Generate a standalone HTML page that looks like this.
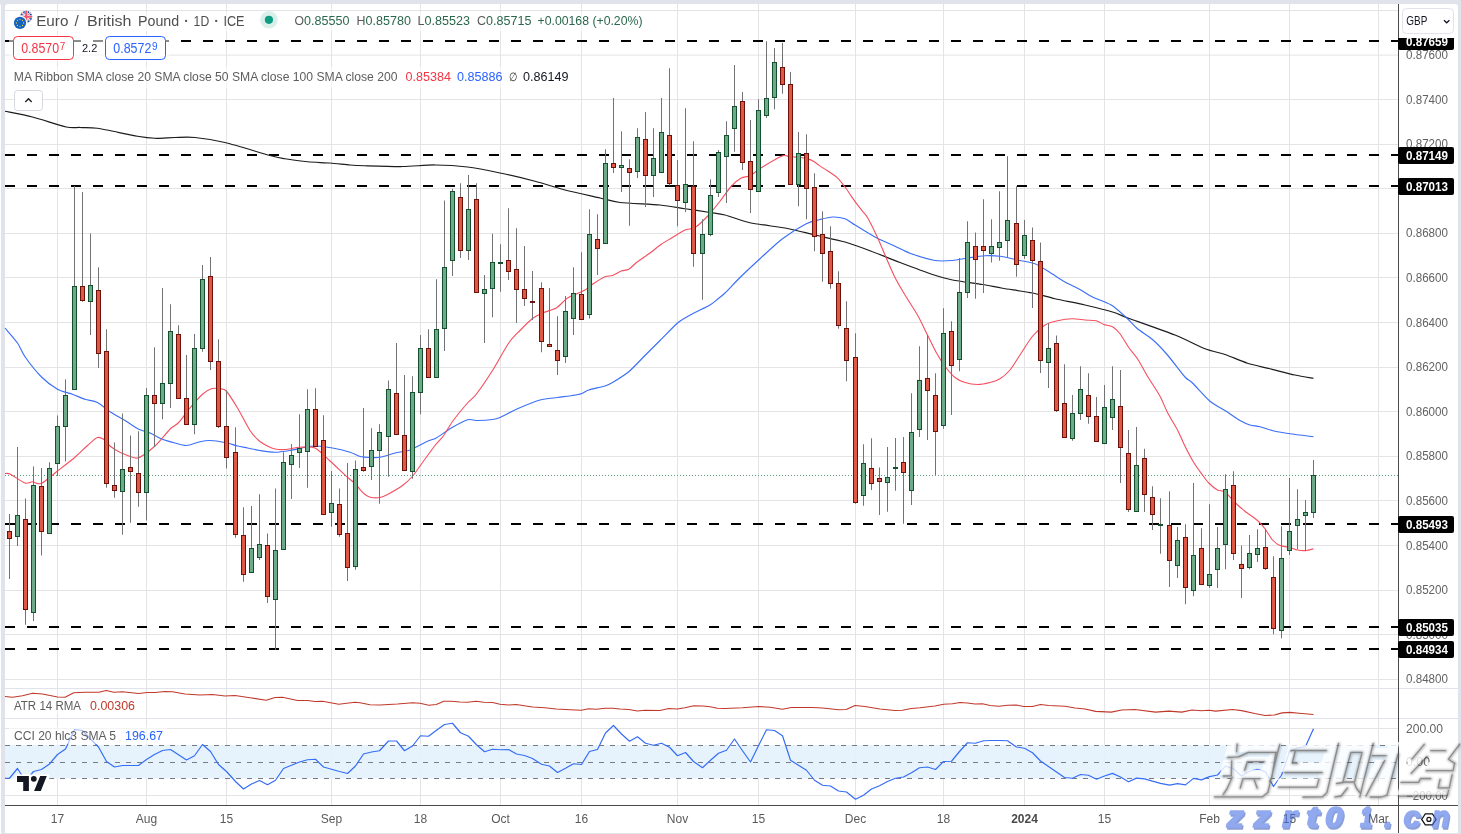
<!DOCTYPE html><html><head><meta charset="utf-8"><title>EURGBP</title>
<style>html,body{margin:0;padding:0;}html{background:#e0e3eb;}body{background:#ffffff;width:1461px;height:834px;overflow:hidden;position:relative;font-family:"Liberation Sans",sans-serif;}svg{position:absolute;left:0;top:0;display:block;will-change:transform;opacity:0.9999}text{font-family:"Liberation Sans",sans-serif;}</style></head><body>
<svg width="1461" height="834" viewBox="0 0 1461 834">
<rect x="0" y="0" width="1461" height="834" fill="#e0e3eb"/>
<rect x="5" y="4" width="1453" height="829" rx="3" ry="3" fill="#ffffff"/>
<rect x="5" y="700" width="1453" height="132.8" fill="#ffffff"/>
<rect x="0" y="4.5" width="0.95" height="830" fill="#ffffff"/>
<path d="M57.5 4V805 M146.5 4V805 M226.5 4V805 M331.5 4V805 M420.5 4V805 M500.5 4V805 M581.5 4V805 M677.5 4V805 M758.5 4V805 M855.5 4V805 M943.5 4V805 M1024.5 4V805 M1104.5 4V805 M1209.5 4V805 M1289.5 4V805 M1378.5 4V805 M5 10.5H1398 M5 99.5H1398 M5 144.5H1398 M5 188.5H1398 M5 233.5H1398 M5 277.5H1398 M5 322.5H1398 M5 367.5H1398 M5 411.5H1398 M5 456.5H1398 M5 500.5H1398 M5 545.5H1398 M5 590.5H1398 M5 634.5H1398 M5 679.5H1398 M5 728.5H1398 M5 795.5H1398" stroke="#e4e4e6" stroke-width="1" fill="none" shape-rendering="crispEdges"/>
<path d="M5 55.1H1398" stroke="#e4e4e6" stroke-width="1" fill="none"/>
<path d="M5 688.5H1458M5 718.5H1458" stroke="#e0e3eb" stroke-width="1" fill="none" shape-rendering="crispEdges"/>
<rect x="5" y="745" width="1393" height="33.5" fill="#e3f2fd" opacity="0.9"/>
<path d="M5 745.5H1398M5 762.5H1398M5 778.5H1398" stroke="#787b86" stroke-width="1" stroke-dasharray="5 6" fill="none" shape-rendering="crispEdges"/>
<path d="M5 41H1398" stroke="#000" stroke-width="2" stroke-dasharray="10 12" fill="none" shape-rendering="crispEdges"/>
<path d="M5 155H1398" stroke="#000" stroke-width="2" stroke-dasharray="10 12" fill="none" shape-rendering="crispEdges"/>
<path d="M5 186H1398" stroke="#000" stroke-width="2" stroke-dasharray="10 12" fill="none" shape-rendering="crispEdges"/>
<path d="M5 524H1398" stroke="#000" stroke-width="2" stroke-dasharray="10 12" fill="none" shape-rendering="crispEdges"/>
<path d="M5 627H1398" stroke="#000" stroke-width="2" stroke-dasharray="10 12" fill="none" shape-rendering="crispEdges"/>
<path d="M5 649H1398" stroke="#000" stroke-width="2" stroke-dasharray="10 12" fill="none" shape-rendering="crispEdges"/>
<path d="M5 475.5H1398" stroke="#5ba27b" stroke-width="1" stroke-dasharray="1 2" fill="none" shape-rendering="crispEdges"/>
<path d="M5.00 111.25 C8.67 112.02 24.33 114.90 32.50 117.00 C40.67 119.10 59.92 125.60 66.25 127.00 C72.58 128.40 75.83 127.33 80.00 127.50 C84.17 127.67 89.83 127.08 97.50 128.25 C105.17 129.42 129.83 134.92 137.50 136.25 C145.17 137.58 150.00 138.08 155.00 138.25 C160.00 138.42 169.67 137.60 175.00 137.50 C180.33 137.40 188.33 136.83 195.00 137.50 C201.67 138.17 215.00 140.10 225.00 142.50 C235.00 144.90 262.00 153.33 270.00 155.50 C278.00 157.67 280.00 157.92 285.00 158.75 C290.00 159.58 301.50 161.18 307.50 161.75 C313.50 162.32 324.33 162.57 330.00 163.00 C335.67 163.43 345.33 164.63 350.00 165.00 C354.67 165.37 358.00 165.55 365.00 165.75 C372.00 165.95 393.17 166.60 402.50 166.50 C411.83 166.40 426.33 164.93 435.00 165.00 C443.67 165.07 458.83 165.93 467.50 167.00 C476.17 168.07 491.00 171.10 500.00 173.00 C509.00 174.90 526.33 178.98 535.00 181.25 C543.67 183.52 556.33 187.77 565.00 190.00 C573.67 192.23 592.67 196.33 600.00 198.00 C607.33 199.67 612.00 201.57 620.00 202.50 C628.00 203.43 651.33 204.17 660.00 205.00 C668.67 205.83 678.33 207.75 685.00 208.75 C691.67 209.75 704.67 211.67 710.00 212.50 C715.33 213.33 719.67 213.63 725.00 215.00 C730.33 216.37 741.67 220.95 750.00 222.75 C758.33 224.55 778.83 226.87 787.50 228.50 C796.17 230.13 807.33 233.20 815.00 235.00 C822.67 236.80 837.67 239.90 845.00 242.00 C852.33 244.10 862.67 248.02 870.00 250.75 C877.33 253.48 891.67 259.33 900.00 262.50 C908.33 265.67 925.50 272.17 932.50 274.50 C939.50 276.83 945.83 278.67 952.50 280.00 C959.17 281.33 975.83 283.40 982.50 284.50 C989.17 285.60 995.83 287.12 1002.50 288.25 C1009.17 289.38 1025.50 291.60 1032.50 293.00 C1039.50 294.40 1048.00 297.15 1055.00 298.75 C1062.00 300.35 1077.33 303.23 1085.00 305.00 C1092.67 306.77 1106.50 310.17 1112.50 312.00 C1118.50 313.83 1121.67 315.68 1130.00 318.75 C1138.33 321.82 1165.00 331.00 1175.00 335.00 C1185.00 339.00 1198.33 346.15 1205.00 348.75 C1211.67 351.35 1219.33 352.57 1225.00 354.50 C1230.67 356.43 1241.50 361.35 1247.50 363.25 C1253.50 365.15 1263.67 367.18 1270.00 368.75 C1276.33 370.32 1289.20 373.73 1295.00 375.00 C1300.80 376.27 1311.03 377.82 1313.50 378.25" stroke="#1c1c1c" stroke-width="1.25" fill="none" stroke-linejoin="round" />
<path d="M5.00 328.00 C6.67 330.00 14.83 339.17 17.50 343.00 C20.17 346.83 21.83 352.25 25.00 356.75 C28.17 361.25 36.92 372.42 41.25 376.75 C45.58 381.08 53.33 386.92 57.50 389.25 C61.67 391.58 68.83 392.92 72.50 394.25 C76.17 395.58 81.67 398.15 85.00 399.25 C88.33 400.35 94.17 400.83 97.50 402.50 C100.83 404.17 106.33 409.35 110.00 411.75 C113.67 414.15 121.17 418.17 125.00 420.50 C128.83 422.83 135.42 427.58 138.75 429.25 C142.08 430.92 146.83 431.67 150.00 433.00 C153.17 434.33 159.17 437.92 162.50 439.25 C165.83 440.58 171.83 442.17 175.00 443.00 C178.17 443.83 182.92 445.67 186.25 445.50 C189.58 445.33 196.83 442.42 200.00 441.75 C203.17 441.08 206.67 440.40 210.00 440.50 C213.33 440.60 221.33 441.77 225.00 442.50 C228.67 443.23 234.50 445.27 237.50 446.00 C240.50 446.73 244.50 447.40 247.50 448.00 C250.50 448.60 256.33 449.93 260.00 450.50 C263.67 451.07 271.00 452.25 275.00 452.25 C279.00 452.25 286.00 451.17 290.00 450.50 C294.00 449.83 301.67 447.85 305.00 447.25 C308.33 446.65 311.33 445.90 315.00 446.00 C318.67 446.10 327.83 447.17 332.50 448.00 C337.17 448.83 346.33 451.12 350.00 452.25 C353.67 453.38 357.33 455.80 360.00 456.50 C362.67 457.20 367.33 457.40 370.00 457.50 C372.67 457.60 376.67 457.85 380.00 457.25 C383.33 456.65 391.00 453.97 395.00 453.00 C399.00 452.03 405.67 451.57 410.00 450.00 C414.33 448.43 424.00 442.85 427.50 441.25 C431.00 439.65 433.08 439.77 436.25 438.00 C439.42 436.23 447.08 430.43 451.25 428.00 C455.42 425.57 464.00 420.75 467.50 419.75 C471.00 418.75 474.17 420.53 477.50 420.50 C480.83 420.47 489.50 419.90 492.50 419.50 C495.50 419.10 496.67 418.93 500.00 417.50 C503.33 416.07 512.17 411.08 517.50 408.75 C522.83 406.42 534.67 401.50 540.00 400.00 C545.33 398.50 553.17 398.10 557.50 397.50 C561.83 396.90 569.33 396.00 572.50 395.50 C575.67 395.00 579.08 394.48 581.25 393.75 C583.42 393.02 585.58 391.03 588.75 390.00 C591.92 388.97 601.83 387.00 605.00 386.00 C608.17 385.00 609.33 384.40 612.50 382.50 C615.67 380.60 624.42 375.35 628.75 371.75 C633.08 368.15 640.83 359.67 645.00 355.50 C649.17 351.33 655.67 344.83 660.00 340.50 C664.33 336.17 674.17 326.00 677.50 323.00 C680.83 320.00 682.67 319.40 685.00 318.00 C687.33 316.60 691.67 314.23 695.00 312.50 C698.33 310.77 707.00 306.77 710.00 305.00 C713.00 303.23 715.50 300.85 717.50 299.25 C719.50 297.65 722.00 295.90 725.00 293.00 C728.00 290.10 735.33 282.07 740.00 277.50 C744.67 272.93 754.33 263.92 760.00 258.75 C765.67 253.58 776.33 243.42 782.50 238.75 C788.67 234.08 801.25 226.32 806.25 223.75 C811.25 221.18 816.50 220.40 820.00 219.50 C823.50 218.60 829.17 217.10 832.50 217.00 C835.83 216.90 842.00 217.68 845.00 218.75 C848.00 219.82 851.00 222.57 855.00 225.00 C859.00 227.43 869.67 234.17 875.00 237.00 C880.33 239.83 890.33 244.08 895.00 246.25 C899.67 248.42 904.67 251.35 910.00 253.25 C915.33 255.15 929.33 259.53 935.00 260.50 C940.67 261.47 948.17 260.83 952.50 260.50 C956.83 260.17 963.17 258.63 967.50 258.00 C971.83 257.37 980.67 255.98 985.00 255.75 C989.33 255.52 995.67 255.68 1000.00 256.25 C1004.33 256.82 1012.83 259.00 1017.50 260.00 C1022.17 261.00 1030.67 262.08 1035.00 263.75 C1039.33 265.42 1046.00 270.07 1050.00 272.50 C1054.00 274.93 1061.00 279.73 1065.00 282.00 C1069.00 284.27 1076.33 287.50 1080.00 289.50 C1083.67 291.50 1088.33 294.93 1092.50 297.00 C1096.67 299.07 1106.75 302.27 1111.25 305.00 C1115.75 307.73 1122.75 314.33 1126.25 317.50 C1129.75 320.67 1134.00 325.82 1137.50 328.75 C1141.00 331.68 1148.50 336.00 1152.50 339.50 C1156.50 343.00 1163.17 350.00 1167.50 355.00 C1171.83 360.00 1181.67 373.27 1185.00 377.00 C1188.33 380.73 1189.17 379.77 1192.50 383.00 C1195.83 386.23 1205.67 397.58 1210.00 401.25 C1214.33 404.92 1221.00 407.93 1225.00 410.50 C1229.00 413.07 1236.67 418.57 1240.00 420.50 C1243.33 422.43 1247.33 424.17 1250.00 425.00 C1252.67 425.83 1256.67 425.92 1260.00 426.75 C1263.33 427.58 1271.00 430.32 1275.00 431.25 C1279.00 432.18 1284.87 433.02 1290.00 433.75 C1295.13 434.48 1310.37 436.35 1313.50 436.75" stroke="#3a6ff7" stroke-width="1.15" fill="none" stroke-linejoin="round" />
<path d="M5.00 473.50 C5.67 473.57 7.33 472.73 10.00 474.00 C12.67 475.27 22.00 481.97 25.00 483.00 C28.00 484.03 30.33 481.68 32.50 481.75 C34.67 481.82 37.92 484.93 41.25 483.50 C44.58 482.07 53.00 474.50 57.50 471.00 C62.00 467.50 71.00 460.65 75.00 457.25 C79.00 453.85 84.50 448.13 87.50 445.50 C90.50 442.87 95.17 438.23 97.50 437.50 C99.83 436.77 103.33 438.87 105.00 440.00 C106.67 441.13 108.00 444.37 110.00 446.00 C112.00 447.63 116.33 450.65 120.00 452.25 C123.67 453.85 132.83 458.83 137.50 458.00 C142.17 457.17 150.67 449.83 155.00 446.00 C159.33 442.17 166.83 432.38 170.00 429.25 C173.17 426.12 176.08 425.33 178.75 422.50 C181.42 419.67 186.83 411.77 190.00 408.00 C193.17 404.23 199.67 396.82 202.50 394.25 C205.33 391.68 208.92 389.48 211.25 388.75 C213.58 388.02 218.00 388.45 220.00 388.75 C222.00 389.05 223.92 388.43 226.25 391.00 C228.58 393.57 234.33 402.73 237.50 408.00 C240.67 413.27 247.17 426.17 250.00 430.50 C252.83 434.83 256.42 438.43 258.75 440.50 C261.08 442.57 265.33 444.87 267.50 446.00 C269.67 447.13 272.67 448.53 275.00 449.00 C277.33 449.47 281.67 449.73 285.00 449.50 C288.33 449.27 296.00 447.45 300.00 447.25 C304.00 447.05 311.00 446.17 315.00 448.00 C319.00 449.83 325.67 457.10 330.00 461.00 C334.33 464.90 344.17 474.25 347.50 477.25 C350.83 480.25 353.33 481.87 355.00 483.50 C356.67 485.13 358.67 488.03 360.00 489.50 C361.33 490.97 363.50 493.43 365.00 494.50 C366.50 495.57 369.25 497.10 371.25 497.50 C373.25 497.90 377.83 497.90 380.00 497.50 C382.17 497.10 384.50 496.10 387.50 494.50 C390.50 492.90 399.17 487.93 402.50 485.50 C405.83 483.07 409.83 479.32 412.50 476.25 C415.17 473.18 419.50 466.60 422.50 462.50 C425.50 458.40 432.17 449.10 435.00 445.50 C437.83 441.90 441.42 438.70 443.75 435.50 C446.08 432.30 449.33 425.83 452.50 421.50 C455.67 417.17 464.33 406.63 467.50 403.00 C470.67 399.37 472.92 398.58 476.25 394.25 C479.58 389.92 488.17 377.33 492.50 370.50 C496.83 363.67 505.08 348.33 508.75 343.00 C512.42 337.67 516.83 333.77 520.00 330.50 C523.17 327.23 529.33 320.90 532.50 318.50 C535.67 316.10 540.58 313.90 543.75 312.50 C546.92 311.10 553.08 309.93 556.25 308.00 C559.42 306.07 564.67 299.93 567.50 298.00 C570.33 296.07 575.17 294.57 577.50 293.50 C579.83 292.43 583.00 291.23 585.00 290.00 C587.00 288.77 589.83 286.02 592.50 284.25 C595.17 282.48 602.33 277.92 605.00 276.75 C607.67 275.58 610.33 276.27 612.50 275.50 C614.67 274.73 619.08 271.83 621.25 271.00 C623.42 270.17 626.58 270.48 628.75 269.25 C630.92 268.02 634.67 263.92 637.50 261.75 C640.33 259.58 646.83 255.33 650.00 253.00 C653.17 250.67 658.38 246.25 661.25 244.25 C664.12 242.25 668.33 239.90 671.50 238.00 C674.67 236.10 681.87 231.40 685.00 230.00 C688.13 228.60 692.00 229.33 695.00 227.50 C698.00 225.67 704.17 219.75 707.50 216.25 C710.83 212.75 716.83 205.25 720.00 201.25 C723.17 197.25 728.42 189.35 731.25 186.25 C734.08 183.15 738.75 179.40 741.25 178.00 C743.75 176.60 747.17 177.22 750.00 175.75 C752.83 174.28 758.14 169.66 762.50 167.00 C766.86 164.34 779.30 157.21 782.70 155.80 C786.10 154.39 786.23 156.23 788.00 156.40 C789.77 156.57 794.11 156.91 796.00 157.10 C797.89 157.29 800.53 157.53 802.20 157.80 C803.87 158.07 806.95 158.62 808.50 159.10 C810.05 159.58 812.39 160.56 813.80 161.40 C815.21 162.24 817.67 164.40 819.10 165.40 C820.53 166.40 823.07 167.99 824.50 168.90 C825.93 169.81 828.37 171.25 829.80 172.20 C831.23 173.15 834.01 175.08 835.20 176.00 C836.39 176.92 837.75 178.09 838.70 179.10 C839.65 180.11 841.35 182.41 842.30 183.60 C843.25 184.79 844.73 186.52 845.80 188.00 C846.87 189.48 848.99 192.79 850.30 194.70 C851.61 196.61 854.12 200.29 855.60 202.30 C857.08 204.31 859.81 207.77 861.40 209.80 C862.99 211.83 865.35 213.81 867.50 217.50 C869.65 221.19 875.17 232.50 877.50 237.50 C879.83 242.50 882.67 249.67 885.00 255.00 C887.33 260.33 892.33 272.17 895.00 277.50 C897.67 282.83 902.00 290.00 905.00 295.00 C908.00 300.00 914.50 309.67 917.50 315.00 C920.50 320.33 925.00 330.00 927.50 335.00 C930.00 340.00 933.92 348.33 936.25 352.50 C938.58 356.67 942.50 362.92 945.00 366.25 C947.50 369.58 952.33 375.33 955.00 377.50 C957.67 379.67 962.00 381.57 965.00 382.50 C968.00 383.43 974.17 384.50 977.50 384.50 C980.83 384.50 987.00 383.27 990.00 382.50 C993.00 381.73 997.33 380.42 1000.00 378.75 C1002.67 377.08 1007.33 373.17 1010.00 370.00 C1012.67 366.83 1017.00 359.50 1020.00 355.00 C1023.00 350.50 1029.17 340.25 1032.50 336.25 C1035.83 332.25 1041.67 327.07 1045.00 325.00 C1048.33 322.93 1053.83 321.58 1057.50 320.75 C1061.17 319.92 1068.83 318.85 1072.50 318.75 C1076.17 318.65 1081.83 319.73 1085.00 320.00 C1088.17 320.27 1093.75 320.15 1096.25 320.75 C1098.75 321.35 1101.58 323.70 1103.75 324.50 C1105.92 325.30 1110.33 325.52 1112.50 326.75 C1114.67 327.98 1117.83 330.98 1120.00 333.75 C1122.17 336.52 1126.42 344.17 1128.75 347.50 C1131.08 350.83 1135.00 354.92 1137.50 358.75 C1140.00 362.58 1144.50 371.25 1147.50 376.25 C1150.50 381.25 1157.33 391.42 1160.00 396.25 C1162.67 401.08 1165.17 408.00 1167.50 412.50 C1169.83 417.00 1175.17 425.50 1177.50 430.00 C1179.83 434.50 1182.83 441.92 1185.00 446.25 C1187.17 450.58 1191.42 458.67 1193.75 462.50 C1196.08 466.33 1200.50 472.27 1202.50 475.00 C1204.50 477.73 1206.75 481.00 1208.75 483.00 C1210.75 485.00 1215.33 488.80 1217.50 490.00 C1219.67 491.20 1222.67 490.33 1225.00 492.00 C1227.33 493.67 1232.33 499.93 1235.00 502.50 C1237.67 505.07 1242.00 508.85 1245.00 511.25 C1248.00 513.65 1254.83 518.17 1257.50 520.50 C1260.17 522.83 1263.00 526.15 1265.00 528.75 C1267.00 531.35 1270.50 537.77 1272.50 540.00 C1274.50 542.23 1277.67 544.50 1280.00 545.50 C1282.33 546.50 1287.67 546.90 1290.00 547.50 C1292.33 548.10 1295.33 549.60 1297.50 550.00 C1299.67 550.40 1304.12 550.67 1306.25 550.50 C1308.38 550.33 1312.53 548.98 1313.50 548.75" stroke="#f4505f" stroke-width="1.12" fill="none" stroke-linejoin="round" />
<path d="M9.5 514.00V579.00 M17.5 447.00V546.00 M25.5 498.50V624.75 M33.5 466.50V621.00 M41.5 468.00V555.50 M49.5 462.25V533.50 M57.5 415.50V476.00 M65.5 379.25V461.50 M74.5 186.00V389.75 M82.5 192.00V301.75 M90.5 233.50V335.00 M98.5 267.25V368.00 M106.5 329.25V487.75 M114.5 442.50V497.75 M122.5 413.50V534.75 M130.5 435.50V522.75 M138.5 431.25V506.75 M146.5 388.00V520.50 M154.5 347.25V447.00 M162.5 288.00V419.25 M170.5 304.25V408.00 M178.5 325.25V398.75 M186.5 355.00V425.00 M194.5 334.00V434.25 M202.5 265.00V351.75 M210.5 257.00V370.00 M218.5 339.25V428.00 M226.5 390.50V468.50 M235.5 427.25V537.75 M243.5 507.25V581.75 M251.5 506.00V572.75 M259.5 494.25V560.00 M267.5 533.50V603.00 M275.5 488.50V649.75 M283.5 452.25V549.75 M291.5 444.00V499.00 M299.5 414.25V468.00 M307.5 389.25V487.75 M315.5 388.25V446.50 M323.5 415.25V514.25 M331.5 471.00V526.75 M339.5 488.50V536.75 M347.5 463.00V581.00 M355.5 460.50V569.75 M363.5 408.00V471.75 M371.5 428.25V480.00 M379.5 424.25V503.75 M388.5 380.50V476.75 M396.5 343.00V434.50 M404.5 375.00V470.50 M412.5 376.25V478.75 M420.5 335.00V414.25 M428.5 329.25V377.50 M436.5 279.25V377.50 M444.5 200.50V351.00 M452.5 188.75V276.00 M460.5 183.25V258.00 M468.5 175.00V260.00 M476.5 183.25V292.50 M484.5 275.00V343.00 M492.5 233.75V317.25 M500.5 244.25V291.75 M508.5 208.25V280.00 M516.5 228.25V323.00 M524.5 246.00V306.00 M532.5 271.00V320.00 M541.5 282.25V352.25 M549.5 288.00V346.75 M557.5 316.25V375.00 M565.5 296.00V363.00 M573.5 267.25V335.00 M581.5 252.25V319.50 M589.5 209.25V318.50 M597.5 214.25V275.00 M605.5 149.25V243.50 M613.5 98.00V173.00 M621.5 131.25V192.00 M629.5 159.25V225.75 M637.5 128.25V178.00 M645.5 112.00V207.00 M653.5 128.25V197.00 M661.5 98.00V172.75 M669.5 68.25V185.50 M677.5 160.00V226.25 M685.5 108.25V212.00 M693.5 141.25V266.75 M702.5 219.25V299.75 M710.5 179.25V236.25 M718.5 150.00V197.00 M726.5 121.25V203.00 M734.5 65.00V151.75 M742.5 92.00V170.00 M750.5 120.00V213.00 M758.5 99.25V191.50 M766.5 41.25V118.00 M774.5 48.00V109.25 M782.5 43.00V93.75 M790.5 72.00V184.50 M798.5 132.00V206.25 M806.5 134.25V219.25 M814.5 173.25V251.25 M822.5 211.25V281.75 M830.5 226.25V288.75 M838.5 271.25V328.75 M846.5 301.25V381.25 M855.5 333.25V503.75 M863.5 444.25V505.75 M871.5 438.25V490.00 M879.5 467.50V515.00 M887.5 447.00V511.75 M895.5 438.00V490.75 M903.5 437.00V523.75 M911.5 393.25V505.00 M919.5 346.25V437.00 M927.5 335.00V440.00 M935.5 373.25V475.00 M943.5 308.25V428.75 M951.5 321.25V415.00 M959.5 258.00V371.25 M967.5 221.25V298.00 M975.5 232.50V298.75 M983.5 199.25V293.00 M991.5 219.25V262.50 M999.5 191.25V260.75 M1007.5 156.25V257.00 M1016.5 186.25V276.75 M1024.5 220.00V258.75 M1032.5 227.50V308.00 M1040.5 242.50V373.00 M1048.5 323.25V388.00 M1056.5 335.50V412.00 M1064.5 364.25V437.50 M1072.5 395.00V440.75 M1080.5 366.25V420.00 M1088.5 373.25V423.75 M1096.5 397.00V441.50 M1104.5 385.00V443.50 M1112.5 366.25V430.00 M1120.5 370.00V483.00 M1128.5 430.00V512.00 M1136.5 427.00V511.50 M1144.5 448.75V512.00 M1152.5 486.25V530.00 M1160.5 498.25V553.75 M1169.5 491.25V587.00 M1177.5 527.00V578.00 M1185.5 524.25V604.25 M1193.5 483.00V596.25 M1201.5 528.25V584.50 M1209.5 504.25V588.00 M1217.5 527.00V588.00 M1225.5 474.25V569.25 M1233.5 471.25V560.00 M1241.5 545.50V598.00 M1249.5 535.00V569.25 M1257.5 529.25V562.00 M1265.5 528.75V570.00 M1273.5 556.25V634.25 M1281.5 526.25V638.25 M1289.5 478.00V555.00 M1297.5 489.25V549.25 M1305.5 500.00V551.25 M1313.5 460.00V518.00" stroke="#737375" stroke-width="1" fill="none"/>
<g fill="#6dab88" stroke="#14502d" stroke-width="1"><rect x="15.5" y="515.5" width="4" height="21.0"/><rect x="31.5" y="485.5" width="4" height="127.0"/><rect x="47.5" y="468.5" width="4" height="65.0"/><rect x="55.5" y="426.5" width="4" height="37.0"/><rect x="63.5" y="395.5" width="4" height="31.0"/><rect x="72.5" y="286.5" width="4" height="103.0"/><rect x="88.5" y="285.5" width="4" height="16.0"/><rect x="120.5" y="469.5" width="4" height="22.0"/><rect x="144.5" y="395.5" width="4" height="97.0"/><rect x="160.5" y="383.5" width="4" height="20.0"/><rect x="168.5" y="331.5" width="4" height="52.0"/><rect x="192.5" y="348.5" width="4" height="76.0"/><rect x="200.5" y="279.5" width="4" height="69.0"/><rect x="249.5" y="548.5" width="4" height="24.0"/><rect x="257.5" y="544.5" width="4" height="13.0"/><rect x="273.5" y="550.5" width="4" height="49.0"/><rect x="281.5" y="462.5" width="4" height="87.0"/><rect x="289.5" y="455.5" width="4" height="9.0"/><rect x="297.5" y="448.5" width="4" height="4.0"/><rect x="305.5" y="409.5" width="4" height="42.0"/><rect x="329.5" y="503.5" width="4" height="9.0"/><rect x="353.5" y="469.5" width="4" height="97.0"/><rect x="369.5" y="450.5" width="4" height="16.0"/><rect x="377.5" y="432.5" width="4" height="18.0"/><rect x="386.5" y="389.5" width="4" height="47.0"/><rect x="410.5" y="392.5" width="4" height="79.0"/><rect x="418.5" y="348.5" width="4" height="44.0"/><rect x="434.5" y="329.5" width="4" height="48.0"/><rect x="442.5" y="267.5" width="4" height="61.0"/><rect x="450.5" y="191.5" width="4" height="69.0"/><rect x="466.5" y="209.5" width="4" height="41.0"/><rect x="482.5" y="289.5" width="4" height="4.0"/><rect x="490.5" y="262.5" width="4" height="26.0"/><rect x="498.5" y="262.5" width="4" height="1.0"/><rect x="563.5" y="311.5" width="4" height="45.0"/><rect x="571.5" y="293.5" width="4" height="25.0"/><rect x="587.5" y="234.5" width="4" height="80.0"/><rect x="603.5" y="163.5" width="4" height="80.0"/><rect x="619.5" y="165.5" width="4" height="2.0"/><rect x="635.5" y="137.5" width="4" height="34.0"/><rect x="651.5" y="158.5" width="4" height="17.0"/><rect x="659.5" y="132.5" width="4" height="40.0"/><rect x="683.5" y="184.5" width="4" height="18.0"/><rect x="700.5" y="234.5" width="4" height="19.0"/><rect x="708.5" y="195.5" width="4" height="39.0"/><rect x="716.5" y="152.5" width="4" height="40.0"/><rect x="724.5" y="135.5" width="4" height="21.0"/><rect x="732.5" y="106.5" width="4" height="22.0"/><rect x="756.5" y="110.5" width="4" height="81.0"/><rect x="764.5" y="98.5" width="4" height="17.0"/><rect x="772.5" y="62.5" width="4" height="35.0"/><rect x="796.5" y="153.5" width="4" height="31.0"/><rect x="861.5" y="463.5" width="4" height="32.0"/><rect x="885.5" y="477.5" width="4" height="5.0"/><rect x="893.5" y="467.5" width="4" height="1.0"/><rect x="909.5" y="432.5" width="4" height="58.0"/><rect x="917.5" y="380.5" width="4" height="49.0"/><rect x="941.5" y="333.5" width="4" height="92.0"/><rect x="957.5" y="292.5" width="4" height="67.0"/><rect x="965.5" y="242.5" width="4" height="50.0"/><rect x="989.5" y="246.5" width="4" height="7.0"/><rect x="997.5" y="242.5" width="4" height="5.0"/><rect x="1005.5" y="220.5" width="4" height="20.0"/><rect x="1022.5" y="235.5" width="4" height="20.0"/><rect x="1046.5" y="348.5" width="4" height="14.0"/><rect x="1070.5" y="413.5" width="4" height="25.0"/><rect x="1078.5" y="389.5" width="4" height="24.0"/><rect x="1102.5" y="407.5" width="4" height="36.0"/><rect x="1110.5" y="399.5" width="4" height="18.0"/><rect x="1134.5" y="465.5" width="4" height="46.0"/><rect x="1158.5" y="524.5" width="4" height="1.0"/><rect x="1175.5" y="540.5" width="4" height="25.0"/><rect x="1191.5" y="555.5" width="4" height="35.0"/><rect x="1207.5" y="574.5" width="4" height="11.0"/><rect x="1215.5" y="548.5" width="4" height="21.0"/><rect x="1223.5" y="489.5" width="4" height="55.0"/><rect x="1247.5" y="553.5" width="4" height="14.0"/><rect x="1255.5" y="548.5" width="4" height="6.0"/><rect x="1279.5" y="558.5" width="4" height="72.0"/><rect x="1287.5" y="531.5" width="4" height="19.0"/><rect x="1295.5" y="519.5" width="4" height="6.0"/><rect x="1303.5" y="512.5" width="4" height="3.0"/><rect x="1311.5" y="475.5" width="4" height="37.0"/></g>
<g fill="#df5846" stroke="#6b1109" stroke-width="1"><rect x="7.5" y="531.5" width="4" height="7.0"/><rect x="23.5" y="519.5" width="4" height="90.0"/><rect x="39.5" y="486.5" width="4" height="45.0"/><rect x="80.5" y="286.5" width="4" height="14.0"/><rect x="96.5" y="290.5" width="4" height="63.0"/><rect x="104.5" y="351.5" width="4" height="132.0"/><rect x="112.5" y="485.5" width="4" height="5.0"/><rect x="128.5" y="467.5" width="4" height="4.0"/><rect x="136.5" y="473.5" width="4" height="19.0"/><rect x="152.5" y="395.5" width="4" height="8.0"/><rect x="176.5" y="334.5" width="4" height="64.0"/><rect x="184.5" y="398.5" width="4" height="26.0"/><rect x="208.5" y="276.5" width="4" height="85.0"/><rect x="216.5" y="361.5" width="4" height="65.0"/><rect x="224.5" y="426.5" width="4" height="31.0"/><rect x="233.5" y="452.5" width="4" height="82.0"/><rect x="241.5" y="535.5" width="4" height="39.0"/><rect x="265.5" y="545.5" width="4" height="51.0"/><rect x="313.5" y="409.5" width="4" height="37.0"/><rect x="321.5" y="440.5" width="4" height="74.0"/><rect x="337.5" y="504.5" width="4" height="30.0"/><rect x="345.5" y="533.5" width="4" height="34.0"/><rect x="361.5" y="467.5" width="4" height="3.0"/><rect x="394.5" y="393.5" width="4" height="41.0"/><rect x="402.5" y="435.5" width="4" height="35.0"/><rect x="426.5" y="348.5" width="4" height="29.0"/><rect x="458.5" y="197.5" width="4" height="53.0"/><rect x="474.5" y="199.5" width="4" height="93.0"/><rect x="506.5" y="260.5" width="4" height="11.0"/><rect x="514.5" y="269.5" width="4" height="20.0"/><rect x="522.5" y="289.5" width="4" height="9.0"/><rect x="530.5" y="301.5" width="4" height="1.0"/><rect x="539.5" y="288.5" width="4" height="53.0"/><rect x="547.5" y="344.5" width="4" height="2.0"/><rect x="555.5" y="350.5" width="4" height="10.0"/><rect x="579.5" y="294.5" width="4" height="25.0"/><rect x="595.5" y="239.5" width="4" height="9.0"/><rect x="611.5" y="163.5" width="4" height="4.0"/><rect x="627.5" y="168.5" width="4" height="4.0"/><rect x="643.5" y="139.5" width="4" height="36.0"/><rect x="667.5" y="135.5" width="4" height="48.0"/><rect x="675.5" y="185.5" width="4" height="15.0"/><rect x="691.5" y="186.5" width="4" height="67.0"/><rect x="740.5" y="101.5" width="4" height="61.0"/><rect x="748.5" y="161.5" width="4" height="28.0"/><rect x="780.5" y="67.5" width="4" height="17.0"/><rect x="788.5" y="84.5" width="4" height="100.0"/><rect x="804.5" y="153.5" width="4" height="35.0"/><rect x="812.5" y="187.5" width="4" height="49.0"/><rect x="820.5" y="234.5" width="4" height="19.0"/><rect x="828.5" y="251.5" width="4" height="32.0"/><rect x="836.5" y="283.5" width="4" height="42.0"/><rect x="844.5" y="328.5" width="4" height="32.0"/><rect x="853.5" y="357.5" width="4" height="145.0"/><rect x="869.5" y="468.5" width="4" height="15.0"/><rect x="877.5" y="478.5" width="4" height="3.0"/><rect x="901.5" y="462.5" width="4" height="10.0"/><rect x="925.5" y="378.5" width="4" height="12.0"/><rect x="933.5" y="395.5" width="4" height="36.0"/><rect x="949.5" y="331.5" width="4" height="34.0"/><rect x="973.5" y="246.5" width="4" height="13.0"/><rect x="981.5" y="246.5" width="4" height="4.0"/><rect x="1014.5" y="223.5" width="4" height="41.0"/><rect x="1030.5" y="240.5" width="4" height="20.0"/><rect x="1038.5" y="261.5" width="4" height="99.0"/><rect x="1054.5" y="343.5" width="4" height="67.0"/><rect x="1062.5" y="403.5" width="4" height="34.0"/><rect x="1086.5" y="395.5" width="4" height="21.0"/><rect x="1094.5" y="416.5" width="4" height="25.0"/><rect x="1118.5" y="406.5" width="4" height="41.0"/><rect x="1126.5" y="453.5" width="4" height="56.0"/><rect x="1142.5" y="458.5" width="4" height="36.0"/><rect x="1150.5" y="497.5" width="4" height="17.0"/><rect x="1167.5" y="525.5" width="4" height="35.0"/><rect x="1183.5" y="537.5" width="4" height="50.0"/><rect x="1199.5" y="548.5" width="4" height="36.0"/><rect x="1231.5" y="485.5" width="4" height="68.0"/><rect x="1239.5" y="564.5" width="4" height="4.0"/><rect x="1263.5" y="547.5" width="4" height="21.0"/><rect x="1271.5" y="577.5" width="4" height="51.0"/></g>
<path d="M5.00 696.50 L12.50 697.25 L22.50 695.75 L32.50 693.25 L42.50 694.00 L57.50 697.00 L65.00 697.25 L73.75 692.75 L85.00 692.25 L98.75 692.25 L106.25 690.50 L113.75 692.25 L122.50 691.75 L138.75 693.50 L147.50 692.50 L155.00 692.50 L165.00 691.50 L172.50 691.75 L185.00 694.00 L200.00 695.00 L212.50 694.50 L225.00 696.00 L235.00 695.50 L250.00 697.75 L266.25 700.25 L275.00 697.50 L282.50 697.25 L297.50 700.50 L307.50 700.50 L315.00 701.50 L322.50 701.25 L338.75 704.25 L355.00 702.25 L360.00 702.75 L370.00 704.75 L380.00 705.00 L397.50 704.00 L412.50 702.75 L420.00 703.25 L428.75 705.25 L436.25 704.50 L443.75 701.25 L451.25 701.25 L460.00 702.00 L467.50 702.25 L476.25 701.25 L483.75 702.25 L492.50 702.50 L500.00 704.25 L508.75 705.00 L516.25 704.50 L532.50 707.00 L545.00 707.75 L556.25 709.00 L570.00 709.75 L581.25 710.25 L588.75 708.75 L596.25 709.25 L605.00 708.25 L612.50 708.25 L620.00 709.00 L628.75 709.50 L637.50 711.00 L645.00 710.25 L660.00 710.50 L668.75 708.50 L677.50 709.00 L685.00 707.75 L693.75 705.75 L702.50 706.00 L710.00 706.75 L717.50 708.25 L725.00 708.50 L742.50 707.75 L758.75 706.50 L770.00 707.25 L782.50 709.25 L791.25 707.50 L812.50 707.50 L822.50 708.00 L838.75 709.75 L846.25 709.50 L855.00 705.50 L865.00 706.50 L880.00 709.00 L895.00 710.50 L902.50 710.25 L911.25 708.50 L920.00 707.75 L935.00 706.00 L943.75 704.25 L952.50 703.75 L960.00 702.50 L967.50 703.00 L975.00 704.00 L982.50 703.75 L990.00 705.50 L998.75 706.25 L1007.50 705.25 L1016.25 705.00 L1023.75 706.50 L1032.50 706.50 L1040.50 704.50 L1048.75 705.50 L1065.00 706.25 L1075.00 708.00 L1085.00 709.00 L1095.60 711.40 L1111.30 712.10 L1121.70 710.00 L1134.80 709.50 L1155.60 712.10 L1168.70 711.10 L1181.70 712.10 L1192.10 710.00 L1201.30 710.80 L1209.00 710.30 L1215.60 711.10 L1232.50 709.50 L1241.70 710.60 L1254.70 713.50 L1265.10 715.50 L1274.30 715.00 L1282.10 712.90 L1289.90 712.40 L1299.00 713.20 L1313.50 714.50" stroke="#c0392b" stroke-width="1.1" fill="none" stroke-linejoin="round" />
<path d="M5.00 778.25 L9.50 778.25 L17.50 768.50 L25.50 781.00 L33.50 771.50 L41.50 769.50 L49.50 764.00 L57.50 754.50 L65.50 749.00 L74.50 729.50 L82.50 730.50 L90.50 739.00 L98.50 747.00 L106.50 761.50 L114.50 767.00 L122.50 765.50 L130.50 765.50 L138.50 765.50 L146.50 759.50 L154.50 754.50 L162.50 750.50 L170.50 749.50 L178.50 754.75 L186.50 760.00 L194.50 755.75 L202.50 744.50 L210.50 751.50 L218.50 764.50 L226.50 771.50 L235.50 781.50 L243.50 789.00 L251.50 784.00 L259.50 780.50 L267.50 784.75 L275.50 780.25 L283.50 768.50 L291.50 765.25 L299.50 762.00 L307.50 759.75 L315.50 759.25 L323.50 767.00 L331.50 769.25 L339.50 771.50 L347.50 773.50 L355.50 766.00 L363.50 754.00 L371.50 752.00 L379.50 750.75 L388.50 741.00 L396.50 741.00 L404.50 750.75 L412.50 746.00 L420.50 735.75 L428.50 736.25 L436.50 730.25 L444.50 724.50 L452.50 723.25 L460.50 732.75 L468.50 736.25 L476.50 744.75 L484.50 751.75 L492.50 749.25 L500.50 749.75 L508.50 749.50 L516.50 754.00 L524.50 755.50 L532.50 758.50 L541.50 764.25 L549.50 766.00 L557.50 772.50 L565.50 768.25 L573.50 763.75 L581.50 764.50 L589.50 751.50 L597.50 749.50 L605.50 733.00 L613.50 725.50 L621.50 734.00 L629.50 741.25 L637.50 736.75 L645.50 743.25 L653.50 745.25 L661.50 743.25 L669.50 747.25 L677.50 755.75 L685.50 752.50 L693.50 761.50 L702.50 767.75 L710.50 760.25 L718.50 753.25 L726.50 750.25 L734.50 739.00 L742.50 750.75 L750.50 762.00 L758.50 745.75 L766.50 729.75 L774.50 730.50 L782.50 735.75 L790.50 760.25 L798.50 765.25 L806.50 770.25 L814.50 780.25 L822.50 785.25 L830.50 786.00 L838.50 791.00 L846.50 792.00 L855.50 799.25 L863.50 795.25 L871.50 789.00 L879.50 785.75 L887.50 781.50 L895.50 778.25 L903.50 777.00 L911.50 772.75 L919.50 767.75 L927.50 767.00 L935.50 769.50 L943.50 761.50 L951.50 761.25 L959.50 751.50 L967.50 742.75 L975.50 743.25 L983.50 740.75 L991.50 740.50 L999.50 740.50 L1007.50 740.75 L1016.50 747.00 L1024.50 748.25 L1032.50 752.75 L1040.50 761.00 L1048.50 766.50 L1056.50 772.00 L1064.50 777.50 L1072.50 778.25 L1080.50 774.50 L1088.50 775.25 L1096.50 779.20 L1104.50 776.00 L1112.50 773.40 L1120.50 777.00 L1128.50 781.80 L1136.50 778.10 L1144.50 778.90 L1152.50 781.20 L1160.50 783.30 L1169.50 785.20 L1177.50 783.60 L1185.50 784.90 L1193.50 778.40 L1201.50 779.90 L1209.50 776.60 L1217.50 775.00 L1225.50 766.10 L1233.50 768.70 L1241.50 776.00 L1249.50 771.30 L1257.50 769.25 L1265.50 771.90 L1273.50 786.50 L1281.50 775.25 L1289.50 751.80 L1297.50 747.90 L1305.50 746.60 L1313.50 728.80" stroke="#356df7" stroke-width="1.2" fill="none" stroke-linejoin="round" />
<path d="M1398.5 4V833M5 805.5H1458" stroke="#4a4a4a" stroke-width="1" fill="none" shape-rendering="crispEdges"/>
<text x="1406" y="58.9" font-size="12" fill="#626262" textLength="42" lengthAdjust="spacingAndGlyphs">0.87600</text>
<text x="1406" y="103.5" font-size="12" fill="#626262" textLength="42" lengthAdjust="spacingAndGlyphs">0.87400</text>
<text x="1406" y="148.10000000000002" font-size="12" fill="#626262" textLength="42" lengthAdjust="spacingAndGlyphs">0.87200</text>
<text x="1406" y="192.70000000000002" font-size="12" fill="#626262" textLength="42" lengthAdjust="spacingAndGlyphs">0.87000</text>
<text x="1406" y="237.3" font-size="12" fill="#626262" textLength="42" lengthAdjust="spacingAndGlyphs">0.86800</text>
<text x="1406" y="281.90000000000003" font-size="12" fill="#626262" textLength="42" lengthAdjust="spacingAndGlyphs">0.86600</text>
<text x="1406" y="326.5" font-size="12" fill="#626262" textLength="42" lengthAdjust="spacingAndGlyphs">0.86400</text>
<text x="1406" y="371.1" font-size="12" fill="#626262" textLength="42" lengthAdjust="spacingAndGlyphs">0.86200</text>
<text x="1406" y="415.7" font-size="12" fill="#626262" textLength="42" lengthAdjust="spacingAndGlyphs">0.86000</text>
<text x="1406" y="460.3" font-size="12" fill="#626262" textLength="42" lengthAdjust="spacingAndGlyphs">0.85800</text>
<text x="1406" y="504.90000000000003" font-size="12" fill="#626262" textLength="42" lengthAdjust="spacingAndGlyphs">0.85600</text>
<text x="1406" y="549.5" font-size="12" fill="#626262" textLength="42" lengthAdjust="spacingAndGlyphs">0.85400</text>
<text x="1406" y="594.1" font-size="12" fill="#626262" textLength="42" lengthAdjust="spacingAndGlyphs">0.85200</text>
<text x="1406" y="638.7" font-size="12" fill="#626262" textLength="42" lengthAdjust="spacingAndGlyphs">0.85000</text>
<text x="1406" y="683.3000000000001" font-size="12" fill="#626262" textLength="42" lengthAdjust="spacingAndGlyphs">0.84800</text>
<text x="1406" y="732.8" font-size="12" fill="#626262" textLength="37" lengthAdjust="spacingAndGlyphs">200.00</text>
<text x="1406" y="766.3" font-size="12" fill="#626262" textLength="24" lengthAdjust="spacingAndGlyphs">0.00</text>
<text x="1406" y="799.8" font-size="12" fill="#626262" textLength="42" lengthAdjust="spacingAndGlyphs">−200.00</text>
<clipPath id="cl41"><rect x="1390" y="38" width="71" height="40"/></clipPath><g clip-path="url(#cl41)">
<rect x="1398" y="33.0" width="56" height="17" rx="2" ry="2" fill="#000"/>
<text x="1406" y="45.8" font-size="12" font-weight="bold" fill="#fff" textLength="42" lengthAdjust="spacingAndGlyphs">0.87659</text>
</g>
<rect x="1398" y="147.0" width="56" height="17" rx="2" ry="2" fill="#000"/>
<text x="1406" y="159.8" font-size="12" font-weight="bold" fill="#fff" textLength="42" lengthAdjust="spacingAndGlyphs">0.87149</text>
<rect x="1398" y="178.0" width="56" height="17" rx="2" ry="2" fill="#000"/>
<text x="1406" y="190.8" font-size="12" font-weight="bold" fill="#fff" textLength="42" lengthAdjust="spacingAndGlyphs">0.87013</text>
<rect x="1398" y="516.0" width="56" height="17" rx="2" ry="2" fill="#000"/>
<text x="1406" y="528.8" font-size="12" font-weight="bold" fill="#fff" textLength="42" lengthAdjust="spacingAndGlyphs">0.85493</text>
<rect x="1398" y="619.0" width="56" height="17" rx="2" ry="2" fill="#000"/>
<text x="1406" y="631.8" font-size="12" font-weight="bold" fill="#fff" textLength="42" lengthAdjust="spacingAndGlyphs">0.85035</text>
<rect x="1398" y="641.0" width="56" height="17" rx="2" ry="2" fill="#000"/>
<text x="1406" y="653.8" font-size="12" font-weight="bold" fill="#fff" textLength="42" lengthAdjust="spacingAndGlyphs">0.84934</text>
<rect x="1402.5" y="8.5" width="51" height="25" rx="4" ry="4" fill="#fff" stroke="#e0e3eb" stroke-width="1"/>
<text x="1406.3" y="25.2" font-size="12.5" fill="#131722" textLength="21" lengthAdjust="spacingAndGlyphs">GBP</text>
<path d="M1444 20.2L1446.7 22.8L1449.4 20.2" stroke="#131722" stroke-width="1.3" fill="none"/>
<text x="57.5" y="823.3" font-size="12" fill="#5a5a5a" text-anchor="middle">17</text>
<text x="146.5" y="823.3" font-size="12" fill="#5a5a5a" text-anchor="middle">Aug</text>
<text x="226.5" y="823.3" font-size="12" fill="#5a5a5a" text-anchor="middle">15</text>
<text x="331.5" y="823.3" font-size="12" fill="#5a5a5a" text-anchor="middle">Sep</text>
<text x="420.5" y="823.3" font-size="12" fill="#5a5a5a" text-anchor="middle">18</text>
<text x="500.5" y="823.3" font-size="12" fill="#5a5a5a" text-anchor="middle">Oct</text>
<text x="581.5" y="823.3" font-size="12" fill="#5a5a5a" text-anchor="middle">16</text>
<text x="677.5" y="823.3" font-size="12" fill="#5a5a5a" text-anchor="middle">Nov</text>
<text x="758.5" y="823.3" font-size="12" fill="#5a5a5a" text-anchor="middle">15</text>
<text x="855.5" y="823.3" font-size="12" fill="#5a5a5a" text-anchor="middle">Dec</text>
<text x="943.5" y="823.3" font-size="12" fill="#5a5a5a" text-anchor="middle">18</text>
<text x="1104.5" y="823.3" font-size="12" fill="#5a5a5a" text-anchor="middle">15</text>
<text x="1209.5" y="823.3" font-size="12" fill="#5a5a5a" text-anchor="middle">Feb</text>
<text x="1289.5" y="823.3" font-size="12" fill="#5a5a5a" text-anchor="middle">15</text>
<text x="1378.5" y="823.3" font-size="12" fill="#5a5a5a" text-anchor="middle">Mar</text>
<text x="1024.5" y="823.3" font-size="12" font-weight="bold" fill="#4a4a4a" text-anchor="middle">2024</text>
<polygon points="1436.10,819.40 1432.50,824.89 1425.30,824.89 1421.70,819.40 1425.30,813.91 1432.50,813.91" fill="none" stroke="#111" stroke-width="1.2"/>
<circle cx="1428.9" cy="819.4" r="2" fill="none" stroke="#111" stroke-width="1.2"/>
<rect x="9" y="12" width="640" height="19" fill="rgba(255,255,255,0.55)"/>
<rect x="9" y="34" width="160" height="28" fill="rgba(255,255,255,0.55)"/>
<rect x="9" y="67" width="563" height="21" fill="rgba(255,255,255,0.55)"/>
<rect x="9" y="698" width="131" height="16" fill="rgba(255,255,255,0.55)"/>
<rect x="9" y="727" width="158" height="17" fill="rgba(255,255,255,0.55)"/>
<circle cx="26.2" cy="16.8" r="6" fill="#ffffff"/>
<clipPath id="uk"><circle cx="26.2" cy="16.8" r="6"/></clipPath>
<g clip-path="url(#uk)"><rect x="20" y="10" width="13" height="14" fill="#0d47a1"/><path d="M20 10.6L32.4 23M32.4 10.6L20 23" stroke="#fff" stroke-width="1.9"/><path d="M20 10.6L32.4 23M32.4 10.6L20 23" stroke="#ef5368" stroke-width="0.8"/><path d="M26.2 10V24M20 16.8H33" stroke="#fff" stroke-width="3.1"/><path d="M26.2 10V24M20 16.8H33" stroke="#f0566b" stroke-width="2.1"/></g>
<circle cx="20" cy="22.9" r="7.3" fill="#fff"/>
<circle cx="20" cy="22.9" r="6.1" fill="#1565c0"/>
<circle cx="23.60" cy="22.90" r="0.62" fill="#fdd835"/>
<circle cx="22.55" cy="25.45" r="0.62" fill="#fdd835"/>
<circle cx="20.00" cy="26.50" r="0.62" fill="#fdd835"/>
<circle cx="17.45" cy="25.45" r="0.62" fill="#fdd835"/>
<circle cx="16.40" cy="22.90" r="0.62" fill="#fdd835"/>
<circle cx="17.45" cy="20.35" r="0.62" fill="#fdd835"/>
<circle cx="20.00" cy="19.30" r="0.62" fill="#fdd835"/>
<circle cx="22.55" cy="20.35" r="0.62" fill="#fdd835"/>
<text x="36.2" y="26" font-size="15.2" fill="#4f4f4f" textLength="32.2" lengthAdjust="spacingAndGlyphs">Euro</text>
<text x="74.6" y="26" font-size="15.2" fill="#4f4f4f">/</text>
<text x="87" y="26" font-size="15.2" fill="#4f4f4f" textLength="44.5" lengthAdjust="spacingAndGlyphs">British</text>
<text x="138" y="26" font-size="15.2" fill="#4f4f4f" textLength="41.2" lengthAdjust="spacingAndGlyphs">Pound</text>
<text x="193.6" y="26" font-size="15.2" fill="#4f4f4f" textLength="15.6" lengthAdjust="spacingAndGlyphs">1D</text>
<text x="223.4" y="26" font-size="15.2" fill="#4f4f4f" textLength="21" lengthAdjust="spacingAndGlyphs">ICE</text>
<rect x="185.1" y="19.9" width="2" height="2" fill="#4f4f4f"/><rect x="215.2" y="19.9" width="2" height="2" fill="#4f4f4f"/>
<circle cx="268.9" cy="19.8" r="8.8" fill="#d9efea"/><circle cx="268.9" cy="19.8" r="4.1" fill="#0e9c82"/>
<text x="294.5" y="24.5" font-size="13" fill="#5a5a5a" textLength="9.5" lengthAdjust="spacingAndGlyphs" >O</text>
<text x="304" y="24.5" font-size="13" fill="#2a674b" textLength="45.5" lengthAdjust="spacingAndGlyphs" >0.85550</text>
<text x="356.5" y="24.5" font-size="13" fill="#5a5a5a" textLength="9" lengthAdjust="spacingAndGlyphs" >H</text>
<text x="365.5" y="24.5" font-size="13" fill="#2a674b" textLength="45.5" lengthAdjust="spacingAndGlyphs" >0.85780</text>
<text x="417.5" y="24.5" font-size="13" fill="#5a5a5a" textLength="7" lengthAdjust="spacingAndGlyphs" >L</text>
<text x="424.5" y="24.5" font-size="13" fill="#2a674b" textLength="45.5" lengthAdjust="spacingAndGlyphs" >0.85523</text>
<text x="477" y="24.5" font-size="13" fill="#5a5a5a" textLength="9" lengthAdjust="spacingAndGlyphs" >C</text>
<text x="486" y="24.5" font-size="13" fill="#2a674b" textLength="45.5" lengthAdjust="spacingAndGlyphs" >0.85715</text>
<text x="537.5" y="24.5" font-size="13" fill="#2a674b" textLength="105" lengthAdjust="spacingAndGlyphs" >+0.00168 (+0.20%)</text>
<rect x="13.5" y="36.5" width="60" height="23" rx="4" ry="4" fill="#fff" stroke="#f23645" stroke-width="1"/>
<text x="21.2" y="53" font-size="14" fill="#f23645" textLength="38" lengthAdjust="spacingAndGlyphs">0.8570</text><text x="59.8" y="49.5" font-size="10" fill="#f23645">7</text>
<text x="82" y="51.8" font-size="11.5" fill="#131722" textLength="15.3" lengthAdjust="spacingAndGlyphs">2.2</text>
<rect x="105.5" y="36.5" width="60" height="23" rx="4" ry="4" fill="#fff" stroke="#2962ff" stroke-width="1"/>
<text x="113.3" y="53" font-size="14" fill="#2962ff" textLength="38" lengthAdjust="spacingAndGlyphs">0.8572</text><text x="152" y="49.5" font-size="10" fill="#2962ff">9</text>
<text x="13.8" y="80.6" font-size="12" fill="#5d5d5d" textLength="383.7" lengthAdjust="spacingAndGlyphs">MA Ribbon SMA close 20 SMA close 50 SMA close 100 SMA close 200</text>
<text x="405.5" y="80.6" font-size="12" fill="#f23645" textLength="45.5" lengthAdjust="spacingAndGlyphs">0.85384</text>
<text x="457" y="80.6" font-size="12" fill="#2962ff" textLength="45.5" lengthAdjust="spacingAndGlyphs">0.85886</text>
<text x="509" y="80.6" font-size="12" fill="#333" textLength="8" lengthAdjust="spacingAndGlyphs">∅</text>
<text x="523" y="80.6" font-size="12" fill="#131722" textLength="45.5" lengthAdjust="spacingAndGlyphs">0.86149</text>
<rect x="14.5" y="90.5" width="28" height="20" rx="3" ry="3" fill="#fff" stroke="#d6d8e0" stroke-width="1"/>
<path d="M25.3 102L28.5 98.8L31.7 102" stroke="#222" stroke-width="1.4" fill="none"/>
<text x="14" y="710.3" font-size="12" fill="#5d5d5d" textLength="67" lengthAdjust="spacingAndGlyphs">ATR 14 RMA</text>
<text x="90" y="710.3" font-size="12" fill="#c0392b" textLength="45" lengthAdjust="spacingAndGlyphs">0.00306</text>
<text x="14" y="740" font-size="12" fill="#5d5d5d" textLength="102" lengthAdjust="spacingAndGlyphs">CCI 20 hlc3 SMA 5</text>
<text x="125" y="740" font-size="12" fill="#2962ff" textLength="38" lengthAdjust="spacingAndGlyphs">196.67</text>
<rect x="15.6" y="774.4" width="33.7" height="18.1" fill="#fff"/>
<g fill="#131722"><path d="M17 776H28.9V790.9H23.2V782H17Z"/><circle cx="33.8" cy="778.8" r="2.9"/><path d="M34.1 790.9L40.2 776H46.8L40.8 790.9Z"/></g>
<defs><filter id="wbl" x="-5%" y="-20%" width="110%" height="140%"><feGaussianBlur stdDeviation="1.1"/></filter><filter id="wbs" x="-5%" y="-20%" width="110%" height="140%"><feGaussianBlur stdDeviation="0.45"/></filter></defs>
<path d="M1228.1 742.0 L1238.8 742.0 L1235.0 757.0 L1224.3 757.0Z M1223.7 759.5 L1232.6 759.5 L1228.8 775.0 L1219.8 775.0Z M1212.0 796.0 L1223.5 796.0 L1232.0 777.0 L1225.5 777.0Z M1236.8 745.0 L1279.8 745.0 L1278.0 752.0 L1235.0 752.0Z M1271.8 745.0 L1279.8 745.0 L1267.0 796.0 L1259.0 796.0Z M1223.7 788.4 L1268.9 788.4 L1267.0 796.0 L1221.8 796.0Z M1232.8 757.0 L1239.8 757.0 L1230.0 796.0 L1223.0 796.0Z M1239.8 757.0 L1269.8 757.0 L1268.8 761.0 L1238.8 761.0Z M1238.8 761.0 L1246.8 761.0 L1244.6 769.7 L1236.6 769.7Z M1263.8 761.0 L1268.8 761.0 L1266.6 769.7 L1261.6 769.7Z M1236.6 769.7 L1266.6 769.7 L1264.6 777.7 L1234.6 777.7Z M1234.6 777.7 L1242.4 777.7 L1239.7 788.4 L1231.9 788.4Z M1259.3 777.7 L1264.6 777.7 L1261.9 788.4 L1256.6 788.4Z M1247.6 777.7 L1254.6 777.7 L1254.9 788.4 L1250.4 788.4 L1249.5 782.0 L1244.9 788.4 L1240.9 788.4Z M1288.8 745.0 L1326.8 745.0 L1325.5 750.0 L1287.5 750.0Z M1288.8 745.0 L1295.8 745.0 L1289.0 772.0 L1282.0 772.0Z M1283.3 762.6 L1323.3 762.6 L1321.0 772.0 L1281.0 772.0Z M1326.2 745.0 L1337.2 745.0 L1324.5 796.0 L1313.5 796.0Z M1278.3 778.6 L1319.3 778.6 L1317.3 786.6 L1276.3 786.6Z M1303.4 788.4 L1326.4 788.4 L1324.5 796.0 L1301.5 796.0Z M1339.5 742.0 L1351.5 742.0 L1341.5 782.0 L1329.5 782.0Z M1339.5 742.0 L1371.5 742.0 L1369.0 751.8 L1337.0 751.8Z M1363.5 742.0 L1372.5 742.0 L1361.2 787.0 L1352.2 787.0Z M1333.6 781.5 L1362.6 781.5 L1361.2 787.0 L1332.2 787.0Z M1327.8 796.0 L1339.0 796.0 L1347.0 781.5 L1337.0 781.5Z M1353.5 781.5 L1361.0 781.5 L1363.0 796.0 L1356.0 796.0Z M1370.7 748.0 L1398.0 748.0 L1396.2 755.0 L1369.0 755.0Z M1388.5 742.0 L1399.5 742.0 L1386.0 796.0 L1375.0 796.0Z M1367.9 788.4 L1387.9 788.4 L1386.0 796.0 L1366.0 796.0Z M1376.0 760.0 L1384.2 760.0 L1368.8 790.0 L1360.0 790.0Z M1413.0 742.0 L1423.7 742.0 L1411.6 758.3 L1401.0 758.3Z M1415.0 755.0 L1426.5 755.0 L1410.7 772.7 L1399.0 772.7Z M1402.0 758.3 L1411.5 758.3 L1420.0 764.0 L1412.0 766.0Z M1402.0 774.0 L1419.5 774.0 L1417.6 781.6 L1400.1 781.6Z M1399.2 787.0 L1414.2 787.0 L1412.2 795.0 L1397.2 795.0Z M1431.1 743.5 L1447.1 743.5 L1445.5 750.0 L1429.5 750.0Z M1448.0 742.0 L1459.0 742.0 L1447.9 758.7 L1432.0 768.0 L1426.0 764.0 L1438.0 757.0Z M1434.0 750.0 L1441.0 750.0 L1455.0 762.0 L1454.0 770.0 L1446.0 768.0Z M1427.2 763.0 L1454.2 763.0 L1452.5 770.0 L1425.5 770.0Z M1424.0 772.0 L1440.0 772.0 L1438.5 777.8 L1422.5 777.8Z M1434.5 772.0 L1443.5 772.0 L1438.8 791.0 L1429.8 791.0Z M1440.0 780.0 L1454.0 780.0 L1452.2 787.0 L1438.2 787.0Z M1414.1 787.5 L1449.1 787.5 L1447.2 795.0 L1412.2 795.0Z" fill="#ffffff" opacity="0.8"/>
<path d="M1236.6 743.5 L1236.1 751.0 M1227.2 756.8 L1237.9 756.4 L1247.7 751.8 L1277.0 751.8 M1279.3 743.9 L1277.0 752.0 L1267.3 792.0 L1262.0 796.3 L1214.0 796.3 M1231.2 760.4 L1230.8 775.3 L1222.8 775.5 M1231.7 776.8 L1226.4 788.4 L1222.8 793.7 M1244.1 769.7 L1246.8 761.2 L1263.7 761.2 M1239.7 787.5 L1242.4 778.2 L1259.3 778.2 M1253.5 778.6 L1256.6 787.5 M1275.3 752.0 L1271.3 776.8 L1269.0 781.0 M1290.4 750.0 L1326.0 750.0 M1294.9 750.0 L1291.7 762.6 L1296.6 762.6 M1284.2 772.0 L1321.5 772.0 M1278.0 786.7 L1316.2 786.7 L1318.4 778.6 M1338.0 743.0 L1326.4 792.0 L1322.0 796.3 L1302.4 796.5 M1342.4 781.3 L1350.4 751.8 L1361.5 751.8 M1336.0 783.0 L1345.0 781.5 L1354.0 781.5 L1361.5 751.8 M1372.7 743.0 L1362.9 781.3 L1359.3 796.4 M1371.8 755.2 L1385.6 755.2 M1384.2 759.9 L1369.1 788.4 L1365.5 795.5 M1354.0 783.0 L1355.7 787.5 L1359.3 792.0 M1346.9 787.5 L1340.6 795.5 L1334.4 796.4 M1397.6 753.6 L1386.5 794.6 L1380.9 796.5 L1369.7 796.5 M1423.7 743.8 L1411.6 758.3 M1426.5 756.0 L1410.7 772.7 M1430.2 750.1 L1445.1 750.1 M1459.0 743.8 L1447.9 758.7 L1454.4 762.9 M1425.6 770.1 L1452.6 770.1 L1454.0 762.9 M1400.4 781.8 L1418.1 781.8 L1420.0 778.0 L1430.2 778.0 M1439.5 778.8 L1437.7 787.3 L1448.8 787.3 L1451.6 774.1 M1398.6 795.7 L1447.0 795.0 L1447.9 790.0" fill="none" stroke="#555" stroke-width="3.2" stroke-linejoin="round" stroke-linecap="round" opacity="0.38" filter="url(#wbl)" transform="translate(0.8,0.8)"/>
<path d="M1236.6 743.5 L1236.1 751.0 M1227.2 756.8 L1237.9 756.4 L1247.7 751.8 L1277.0 751.8 M1279.3 743.9 L1277.0 752.0 L1267.3 792.0 L1262.0 796.3 L1214.0 796.3 M1231.2 760.4 L1230.8 775.3 L1222.8 775.5 M1231.7 776.8 L1226.4 788.4 L1222.8 793.7 M1244.1 769.7 L1246.8 761.2 L1263.7 761.2 M1239.7 787.5 L1242.4 778.2 L1259.3 778.2 M1253.5 778.6 L1256.6 787.5 M1275.3 752.0 L1271.3 776.8 L1269.0 781.0 M1290.4 750.0 L1326.0 750.0 M1294.9 750.0 L1291.7 762.6 L1296.6 762.6 M1284.2 772.0 L1321.5 772.0 M1278.0 786.7 L1316.2 786.7 L1318.4 778.6 M1338.0 743.0 L1326.4 792.0 L1322.0 796.3 L1302.4 796.5 M1342.4 781.3 L1350.4 751.8 L1361.5 751.8 M1336.0 783.0 L1345.0 781.5 L1354.0 781.5 L1361.5 751.8 M1372.7 743.0 L1362.9 781.3 L1359.3 796.4 M1371.8 755.2 L1385.6 755.2 M1384.2 759.9 L1369.1 788.4 L1365.5 795.5 M1354.0 783.0 L1355.7 787.5 L1359.3 792.0 M1346.9 787.5 L1340.6 795.5 L1334.4 796.4 M1397.6 753.6 L1386.5 794.6 L1380.9 796.5 L1369.7 796.5 M1423.7 743.8 L1411.6 758.3 M1426.5 756.0 L1410.7 772.7 M1430.2 750.1 L1445.1 750.1 M1459.0 743.8 L1447.9 758.7 L1454.4 762.9 M1425.6 770.1 L1452.6 770.1 L1454.0 762.9 M1400.4 781.8 L1418.1 781.8 L1420.0 778.0 L1430.2 778.0 M1439.5 778.8 L1437.7 787.3 L1448.8 787.3 L1451.6 774.1 M1398.6 795.7 L1447.0 795.0 L1447.9 790.0" fill="none" stroke="#555" stroke-width="1.3" stroke-linejoin="round" stroke-linecap="round" opacity="0.5" filter="url(#wbs)" transform="translate(0.5,0.5)"/>
<g font-family="Liberation Sans" font-weight="bold" font-style="italic" font-size="30" stroke-linejoin="round">
<g opacity="0.6"><g fill="#3e5fbe" stroke="#3e5fbe" stroke-width="1.6">
<text x="1228.1" y="829" textLength="17.0" lengthAdjust="spacingAndGlyphs">z</text>
<text x="1254.8" y="829" textLength="17.0" lengthAdjust="spacingAndGlyphs">z</text>
<text x="1283.3" y="829" textLength="14.4" lengthAdjust="spacingAndGlyphs">r</text>
<text x="1307.3" y="829" textLength="12.8" lengthAdjust="spacingAndGlyphs">t</text>
<text x="1326.3" y="829" textLength="18.0" lengthAdjust="spacingAndGlyphs">0</text>
<text x="1361.3" y="829" textLength="12.0" lengthAdjust="spacingAndGlyphs">1</text>
<text x="1385.3" y="829" textLength="8.0" lengthAdjust="spacingAndGlyphs">.</text>
<text x="1404.8" y="829" textLength="17.0" lengthAdjust="spacingAndGlyphs">c</text>
<text x="1433.3" y="829" textLength="17.5" lengthAdjust="spacingAndGlyphs">n</text>
</g><g fill="#4971e6" stroke="#4971e6" stroke-width="1.6">
<text x="1226.8" y="827.2" textLength="17.0" lengthAdjust="spacingAndGlyphs">z</text>
<text x="1253.5" y="827.2" textLength="17.0" lengthAdjust="spacingAndGlyphs">z</text>
<text x="1282.0" y="827.2" textLength="14.4" lengthAdjust="spacingAndGlyphs">r</text>
<text x="1306.0" y="827.2" textLength="12.8" lengthAdjust="spacingAndGlyphs">t</text>
<text x="1325.0" y="827.2" textLength="18.0" lengthAdjust="spacingAndGlyphs">0</text>
<text x="1360.0" y="827.2" textLength="12.0" lengthAdjust="spacingAndGlyphs">1</text>
<text x="1384.0" y="827.2" textLength="8.0" lengthAdjust="spacingAndGlyphs">.</text>
<text x="1403.5" y="827.2" textLength="17.0" lengthAdjust="spacingAndGlyphs">c</text>
<text x="1432.0" y="827.2" textLength="17.5" lengthAdjust="spacingAndGlyphs">n</text>
</g>
</g></g>
</svg></body></html>
